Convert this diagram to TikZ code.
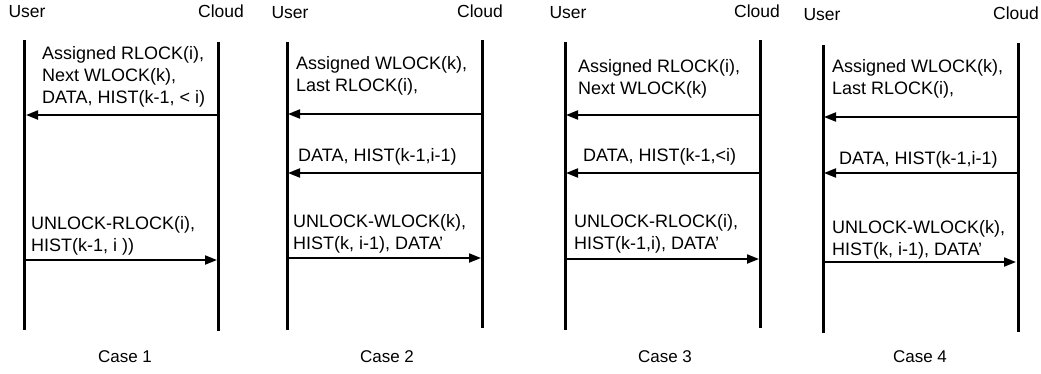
\documentclass[tikz,border=0pt]{standalone}
\usepackage{fontspec}
\setmainfont{Liberation Sans}
\usetikzlibrary{arrows.meta}
\begin{document}
\begin{tikzpicture}[x=1pt,y=-1pt,
  life/.style={line width=3pt},
  msg/.style={line width=2pt,-{Triangle[length=12pt,width=9pt]}},
  lbl/.style={inner sep=0pt,anchor=west,align=left,font=\fontsize{18}{22}\selectfont},
  head/.style={inner sep=0pt,font=\fontsize{17.5}{20}\selectfont},
  caselbl/.style={inner sep=0pt,font=\fontsize{17}{20}\selectfont}]
\useasboundingbox (0,0) rectangle (1041,373);
% ---------- Case 1
\node[head] (user1) at (27,12) {User};
\node[head] (cloud1) at (221,11) {Cloud};
\coordinate (u1t) at (24,40); \coordinate (u1b) at (24,330);
\coordinate (c1t) at (218,42); \coordinate (c1b) at (218,331);
\draw[life] (u1t) -- (u1b);
\draw[life] (c1t) -- (c1b);
\node[lbl] (m11) at (42,77) {Assigned RLOCK(i),\\Next WLOCK(k),\\DATA, HIST(k-1, < i)};
\coordinate (c1a) at (217,115); \coordinate (u1a) at (26,115);
\draw[msg] (c1a) -- (u1a);
\node[lbl] (m12) at (31,236) {UNLOCK-RLOCK(i),\\HIST(k-1, i ))};
\coordinate (u1c) at (24,260); \coordinate (c1c) at (217,260);
\draw[msg] (u1c) -- (c1c);
\node[caselbl] (case1) at (125,357) {Case 1};
% ---------- Case 2
\node[head] (user2) at (290,13) {User};
\node[head] (cloud2) at (480,11) {Cloud};
\coordinate (u2t) at (287,42); \coordinate (u2b) at (287,330);
\coordinate (c2t) at (482,40); \coordinate (c2b) at (482,328);
\draw[life] (u2t) -- (u2b);
\draw[life] (c2t) -- (c2b);
\node[lbl] (m21) at (296,76) {Assigned WLOCK(k),\\Last RLOCK(i),};
\coordinate (c2a) at (481,114); \coordinate (u2a) at (288,114);
\draw[msg] (c2a) -- (u2a);
\node[lbl] (m22) at (298,157) {DATA, HIST(k-1,i-1)};
\coordinate (c2d) at (481,173); \coordinate (u2d) at (288,173);
\draw[msg] (c2d) -- (u2d);
\node[lbl] (m23) at (293,234) {UNLOCK-WLOCK(k),\\HIST(k, i-1), DATA’};
\coordinate (u2c) at (287,258); \coordinate (c2c) at (481,258);
\draw[msg] (u2c) -- (c2c);
\node[caselbl] (case2) at (387,357) {Case 2};
% ---------- Case 3
\node[head] (user3) at (568,13) {User};
\node[head] (cloud3) at (757,11) {Cloud};
\coordinate (u3t) at (565,42); \coordinate (u3b) at (565,330);
\coordinate (c3t) at (760,40); \coordinate (c3b) at (760,328);
\draw[life] (u3t) -- (u3b);
\draw[life] (c3t) -- (c3b);
\node[lbl] (m31) at (578,79) {Assigned RLOCK(i),\\Next WLOCK(k)};
\coordinate (c3a) at (759,115); \coordinate (u3a) at (566,115);
\draw[msg] (c3a) -- (u3a);
\node[lbl] (m32) at (583,157) {DATA, HIST(k-1,<i)};
\coordinate (c3d) at (759,173); \coordinate (u3d) at (566,173);
\draw[msg] (c3d) -- (u3d);
\node[lbl] (m33) at (574,234) {UNLOCK-RLOCK(i),\\HIST(k-1,i), DATA’};
\coordinate (u3c) at (565,259); \coordinate (c3c) at (759,259);
\draw[msg] (u3c) -- (c3c);
\node[caselbl] (case3) at (665,357) {Case 3};
% ---------- Case 4
\node[head] (user4) at (822,15) {User};
\node[head] (cloud4) at (1016,13) {Cloud};
\coordinate (u4t) at (823,45); \coordinate (u4b) at (823,333);
\coordinate (c4t) at (1018,43); \coordinate (c4b) at (1018,332);
\draw[life] (u4t) -- (u4b);
\draw[life] (c4t) -- (c4b);
\node[lbl] (m41) at (832,79) {Assigned WLOCK(k),\\Last RLOCK(i),};
\coordinate (c4a) at (1017,117); \coordinate (u4a) at (824,117);
\draw[msg] (c4a) -- (u4a);
\node[lbl] (m42) at (839,160) {DATA, HIST(k-1,i-1)};
\coordinate (c4d) at (1017,173); \coordinate (u4d) at (824,173);
\draw[msg] (c4d) -- (u4d);
\node[lbl] (m43) at (832,240) {UNLOCK-WLOCK(k),\\HIST(k, i-1), DATA’};
\coordinate (u4c) at (823,262); \coordinate (c4c) at (1016,262);
\draw[msg] (u4c) -- (c4c);
\node[caselbl] (case4) at (920,357) {Case 4};
\end{tikzpicture}
\end{document}
